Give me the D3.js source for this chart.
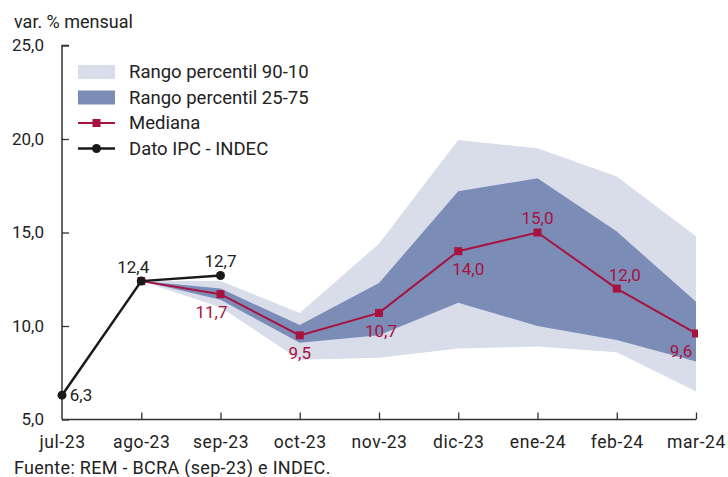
<!DOCTYPE html>
<html><head><meta charset="utf-8">
<script src="https://cdn.jsdelivr.net/npm/d3@7"></script>
<style>body{margin:0;background:#fff}svg{display:block;font-family:Roboto,"Noto Sans",sans-serif}</style>
</head><body><svg id="c" width="728" height="477"></svg>
<script>
const months = ["jul-23","ago-23","sep-23","oct-23","nov-23","dic-23","ene-24","feb-24","mar-24"];
const ipcMonths = ["jul-23","ago-23","sep-23"];
const ipcValues = [6.3, 12.4, 12.7];
const remMonths = ["ago-23","sep-23","oct-23","nov-23","dic-23","ene-24","feb-24","mar-24"];
const median = [12.4, 11.7, 9.5, 10.7, 14.0, 15.0, 12.0, 9.6];
const p25 = [12.4, 11.4, 9.1, 9.5, 11.25, 10.0, 9.25, 8.1];
const p75 = [12.4, 12.0, 10.05, 12.3, 17.2, 17.9, 15.05, 11.3];
const p10 = [12.4, 11.0, 8.2, 8.3, 8.8, 8.9, 8.6, 6.5];
const p90 = [12.4, 12.4, 10.7, 14.4, 19.95, 19.5, 18.0, 14.8];
const yTicks = [5, 10, 15, 20, 25];
const legendLabels = ["Rango percentil 90-10","Rango percentil 25-75","Mediana","Dato IPC - INDEC"];

const svg = d3.select("#c");
const x = d3.scalePoint().domain(months).range([62, 696]);
const y = d3.scaleLinear().domain([5, 25]).range([419.5, 45.5]);
const fmt = v => d3.format(".1f")(v).replace(".", ",");

const cLight = "#d9dce9", cDark = "#7b8cb7", cMed = "#a8123f", cIpc = "#1a1a1a";
const FS = 17;

svg.append("defs").append("clipPath").attr("id","clip")
  .append("rect").attr("x",0).attr("y",0).attr("width",698).attr("height",477);

const rem = remMonths.map((m,i)=>({m, med:median[i], lo:p25[i], hi:p75[i], lo2:p10[i], hi2:p90[i]}));
const g = svg.append("g").attr("clip-path","url(#clip)");
g.append("path").datum(rem).attr("fill",cLight)
  .attr("d", d3.area().x(d=>x(d.m)).y0(d=>y(d.lo2)).y1(d=>y(d.hi2)));
g.append("path").datum(rem).attr("fill",cDark)
  .attr("d", d3.area().x(d=>x(d.m)).y0(d=>y(d.lo)).y1(d=>y(d.hi)));

// axes
const yAxis = d3.axisLeft(y).tickValues(yTicks).tickSize(-7).tickPadding(18).tickFormat(fmt);
const ya = svg.append("g").attr("transform","translate(62,0)").call(yAxis);
const xAxis = d3.axisBottom(x).tickSize(-7).tickPadding(16);
const xa = svg.append("g").attr("transform","translate(0,419.5)").call(xAxis);
[ya, xa].forEach(a=>{
  a.select(".domain").attr("stroke","#333").attr("stroke-width",1.5);
  a.selectAll(".tick line").attr("stroke","#333").attr("stroke-width",1.3);
  a.selectAll(".tick text").attr("font-size",FS).attr("fill","#222").attr("font-family","Roboto");
});
xa.selectAll(".tick text").attr("font-size",17.5).attr("letter-spacing","0.6px");
ya.select(".domain").attr("d","M7,45.5H0V419.5");
xa.selectAll(".tick").filter(d=>d==="jul-23").select("line").remove();
xa.select(".domain").attr("d","M62,0H696");

// median line
g.append("path").datum(rem).attr("fill","none").attr("stroke",cMed).attr("stroke-width",2)
  .attr("d", d3.line().x(d=>x(d.m)).y(d=>y(d.med)));
g.selectAll("rect.med").data(rem).join("rect").attr("class","med")
  .attr("x",d=>x(d.m)-4).attr("y",d=>y(d.med)-4).attr("width",8).attr("height",8).attr("fill",cMed);

// IPC line
const ipc = ipcMonths.map((m,i)=>({m, v:ipcValues[i]}));
svg.append("path").datum(ipc).attr("fill","none").attr("stroke",cIpc).attr("stroke-width",2.5)
  .attr("d", d3.line().x(d=>x(d.m)).y(d=>y(d.v)));
svg.selectAll("circle.ipc").data(ipc).join("circle").attr("class","ipc")
  .attr("cx",d=>x(d.m)).attr("cy",d=>y(d.v)).attr("r",4.5).attr("fill",cIpc);

// labels
const medOff = [null,[-9,18],[0,18],[2,18],[10,18],[0,-14],[8,-14],[-15,18]];
rem.forEach((d,i)=>{
  if(!medOff[i]) return;
  svg.append("text").attr("x",x(d.m)+medOff[i][0]).attr("y",y(d.med)+medOff[i][1]).attr("dy","0.35em")
    .attr("text-anchor","middle").attr("font-size",FS).attr("fill",cMed).text(fmt(d.med));
});
const ipcOff = [[19,0],[-8,-14],[0,-14]];
ipc.forEach((d,i)=>{
  svg.append("text").attr("x",x(d.m)+ipcOff[i][0]).attr("y",y(d.v)+ipcOff[i][1]).attr("dy","0.35em")
    .attr("text-anchor","middle").attr("font-size",FS).attr("fill","#222").text(fmt(d.v));
});

// titles
svg.append("text").attr("x",14).attr("y",28).attr("font-size",18).attr("fill","#222").text("var. % mensual");
svg.append("text").attr("x",14).attr("y",474).attr("font-size",18).attr("letter-spacing","0.3px").attr("fill","#222").text("Fuente: REM - BCRA (sep-23) e INDEC.");

// legend
const lg = svg.append("g");
const rows = [72, 97.5, 123, 148.5];
lg.append("rect").attr("x",78).attr("y",rows[0]-7).attr("width",37).attr("height",14).attr("fill",cLight);
lg.append("rect").attr("x",78).attr("y",rows[1]-7).attr("width",37).attr("height",14).attr("fill",cDark);
lg.append("line").attr("x1",78).attr("x2",115).attr("y1",rows[2]).attr("y2",rows[2]).attr("stroke",cMed).attr("stroke-width",2);
lg.append("rect").attr("x",92.5).attr("y",rows[2]-4).attr("width",8).attr("height",8).attr("fill",cMed);
lg.append("line").attr("x1",78).attr("x2",115).attr("y1",rows[3]).attr("y2",rows[3]).attr("stroke",cIpc).attr("stroke-width",2.5);
lg.append("circle").attr("cx",96.5).attr("cy",rows[3]).attr("r",4.5).attr("fill",cIpc);
legendLabels.forEach((t,i)=>{
  lg.append("text").attr("x",129).attr("y",rows[i]).attr("dy","0.35em").attr("font-size",18.5).attr("fill","#222").text(t);
});
</script></body></html>
